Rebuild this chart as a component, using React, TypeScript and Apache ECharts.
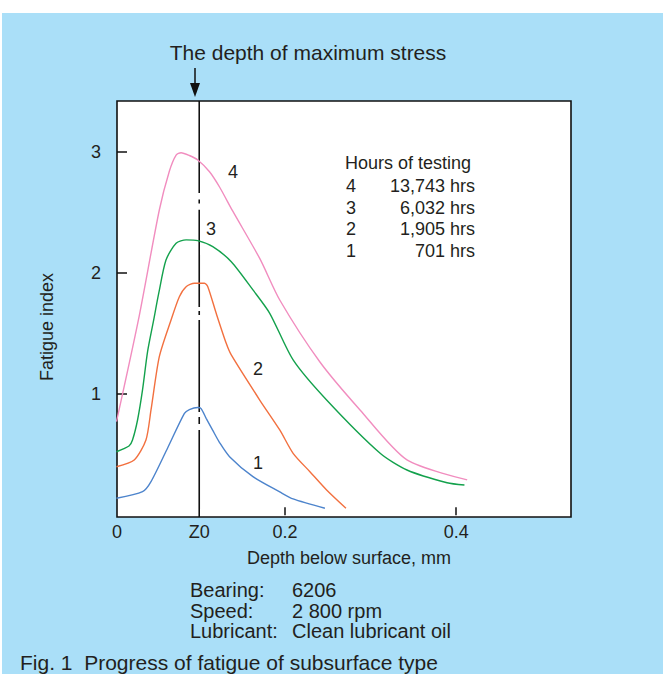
import React, { useEffect, useRef } from "react";
import * as echarts from "echarts";

const FONT = '"Liberation Sans", Arial, Helvetica, sans-serif';
const TEXT = "#231f20";
const BLUE_BG = "#aadff8";

// axis ticks
const xLabelValues = [0.004, 0.1, 0.2, 0.4];
const xLabelTexts = ["0", "Z0", "0.2", "0.4"];
const xTickValues = [0.2, 0.4];
const yTickValues = [1, 2, 3];

// depth of maximum stress
const z0 = 0.1;
const z0Segments = [
  [3.42, 2.661],
  [2.607, 2.574],
  [2.521, 1.718],
  [1.686, 1.653],
  [1.612, 0.852],
  [0.811, 0.753],
  [0.704, -0.015],
];

// curve 4 : 13,743 hrs
const curve4 = [
  [0.0034, 0.772], [0.029, 1.612], [0.0534, 2.52], [0.0651, 2.84], [0.073, 2.974],
  [0.0788, 2.993], [0.0885, 2.97], [0.0983, 2.933], [0.112, 2.836], [0.1237, 2.71],
  [0.139, 2.512], [0.1706, 2.12], [0.194, 1.777], [0.2409, 1.265],
  [0.2877, 0.869], [0.3425, 0.456], [0.4128, 0.291],
];
// curve 3 : 6,032 hrs
const curve3 = [
  [0.0034, 0.524], [0.018, 0.571], [0.0221, 0.621], [0.028, 0.786], [0.0338, 1.034],
  [0.0397, 1.35], [0.0465, 1.6], [0.0528, 1.835], [0.0612, 2.107], [0.073, 2.245],
  [0.0847, 2.273], [0.0983, 2.267], [0.1158, 2.217], [0.1374, 2.093], [0.1627, 1.86],
  [0.1823, 1.667], [0.2096, 1.282], [0.2487, 0.951], [0.3112, 0.511], [0.3425, 0.373],
  [0.3893, 0.268], [0.4096, 0.249],
];
// curve 2 : 1,905 hrs
const curve2 = [
  [0.0034, 0.4], [0.0241, 0.456], [0.0378, 0.621], [0.0437, 0.869], [0.0534, 1.309],
  [0.0671, 1.612], [0.0768, 1.804], [0.0847, 1.887], [0.0944, 1.915], [0.1061, 1.915],
  [0.11, 1.887], [0.1198, 1.667], [0.1315, 1.419], [0.1374, 1.323], [0.1706, 0.951],
  [0.194, 0.704], [0.2096, 0.511], [0.2292, 0.359], [0.2487, 0.208], [0.2713, 0.057],
];
// curve 1 : 701 hrs
const curve1 = [
  [0.0034, 0.14], [0.0338, 0.194], [0.0437, 0.277], [0.0631, 0.555], [0.0827, 0.841],
  [0.0885, 0.872], [0.0983, 0.889], [0.1022, 0.88], [0.1081, 0.8], [0.1158, 0.7],
  [0.1237, 0.6], [0.1354, 0.483], [0.1627, 0.318], [0.194, 0.192], [0.2096, 0.134],
  [0.2467, 0.057],
];

const curveColors = ["#4d84cc", "#f2703f", "#13a14c", "#f18dbf"];
const curveNames = ["1", "2", "3", "4"];
const curves = [curve1, curve2, curve3, curve4];

const legendTitle = "Hours of testing";
const legendRows = [
  ["4", "13,743 hrs"],
  ["3", "6,032 hrs"],
  ["2", "1,905 hrs"],
  ["1", "701 hrs"],
];

const infoLabels = ["Bearing:", "Speed:", "Lubricant:"];
const infoValues = ["6206", "2 800 rpm", "Clean lubricant oil"];

const OX = 2;
const OY = 13;

export default function App() {
  const ref = useRef<HTMLDivElement>(null);

  useEffect(() => {
    document.body.style.margin = "0";
    if (!ref.current) return;
    const chart = echarts.init(ref.current, undefined, { renderer: "svg" });

    const zData: any[] = [];
    z0Segments.forEach((s, i) => {
      if (i > 0) zData.push([z0, "-"]);
      zData.push([z0, s[0]]);
      zData.push([z0, s[1]]);
    });

    const txt = (
      text: string,
      x: number,
      y: number,
      size: number,
      align = "left",
      extra: any = {},
      styleExtra: any = {}
    ) => ({
      type: "text",
      x: x - OX,
      y: y - OY,
      silent: true,
      z: 100,
      ...extra,
      style: {
        text,
        fill: TEXT,
        font: `${size}px ${FONT}`,
        fontSize: size,
        fontFamily: FONT,
        align,
        textAlign: align,
        verticalAlign: "middle",
        textVerticalAlign: "middle",
        ...styleExtra,
      },
    });

    const graphics: any[] = [
      txt("The depth of maximum stress", 308, 52, 21, "center"),
      {
        type: "line",
        silent: true,
        shape: { x1: 195 - OX, y1: 68 - OY, x2: 195 - OX, y2: 86 - OY },
        style: { stroke: "#111", lineWidth: 1.5 },
      },
      {
        type: "polygon",
        silent: true,
        shape: { points: [[190 - OX, 83 - OY], [200 - OX, 83 - OY], [195 - OX, 97 - OY]] },
        style: { fill: "#111" },
      },
      txt("Fatigue index", 47, 327, 18, "center", { rotation: Math.PI / 2 }),
      txt("Depth below surface, mm", 349, 558, 18, "center"),
      txt(legendTitle, 345, 163, 18, "left"),
      txt("4", 233, 172, 18, "center"),
      txt("3", 211, 229, 18, "center"),
      txt("2", 258, 369, 18, "center"),
      txt("1", 258, 463, 18, "center"),
      txt("Fig. 1  Progress of fatigue of subsurface type", 20, 662, 21, "left"),
    ];
    infoLabels.forEach((l, i) => {
      const y = 590 + i * 20.5;
      graphics.push(txt(l, 190, y, 20, "left"));
      graphics.push(txt(infoValues[i], 292, y, 20, "left"));
    });
    legendRows.forEach((r, i) => {
      const y = 186 + i * 21.7;
      graphics.push(txt(r[0], 346, y, 18, "left"));
      graphics.push(txt(r[1], 475, y, 18, "right"));
    });

    const series: any[] = curves.map((c, i) => ({
      type: "line",
      name: curveNames[i],
      data: c,
      smooth: 0.25,
      showSymbol: false,
      symbol: "none",
      lineStyle: { color: curveColors[i], width: 1.4 },
      z: 3,
    }));
    series.push({
      type: "line",
      name: "Z0",
      data: zData,
      connectNulls: false,
      showSymbol: false,
      symbol: "none",
      lineStyle: { color: "#111", width: 1.6 },
      z: 2,
    });

    chart.setOption({
      animation: false,
      backgroundColor: BLUE_BG,
      grid: {
        left: 117 - OX,
        top: 101 - OY,
        right: 661 - (571 - OX),
        bottom: 661 - (517 - OY),
        show: true,
        backgroundColor: "#ffffff",
        borderColor: "#111",
        borderWidth: 1.6,
        containLabel: false,
      },
      xAxis: {
        type: "value",
        min: 0.004,
        max: 0.534,
        splitLine: { show: false },
        axisLine: { show: false },
        axisTick: {
          show: true,
          inside: true,
          length: 8,
          customValues: xTickValues,
          lineStyle: { color: "#111", width: 1.5 },
        },
        axisLabel: {
          show: true,
          customValues: xLabelValues,
          margin: 6,
          fontSize: 18,
          fontFamily: FONT,
          color: TEXT,
          formatter: (v: number) => {
            const idx = xLabelValues.findIndex((t) => Math.abs(t - v) < 1e-6);
            return idx >= 0 ? xLabelTexts[idx] : "";
          },
        },
      },
      yAxis: {
        type: "value",
        min: -0.015,
        max: 3.42,
        splitLine: { show: false },
        axisLine: { show: false },
        axisTick: {
          show: true,
          inside: true,
          length: 10,
          customValues: yTickValues,
          lineStyle: { color: "#111", width: 1.5 },
        },
        axisLabel: {
          show: true,
          customValues: yTickValues,
          margin: 16,
          fontSize: 18,
          fontFamily: FONT,
          color: TEXT,
          formatter: (v: number) => String(v),
        },
      },
      series,
      graphic: { elements: graphics },
    });

    return () => chart.dispose();
  }, []);

  return (
    <div style={{ position: "relative", width: 663, height: 674, background: "#ffffff", overflow: "hidden" }}>
      <div
        ref={ref}
        style={{ position: "absolute", left: OX, top: OY, width: 663 - OX, height: 674 - OY }}
      />
    </div>
  );
}
